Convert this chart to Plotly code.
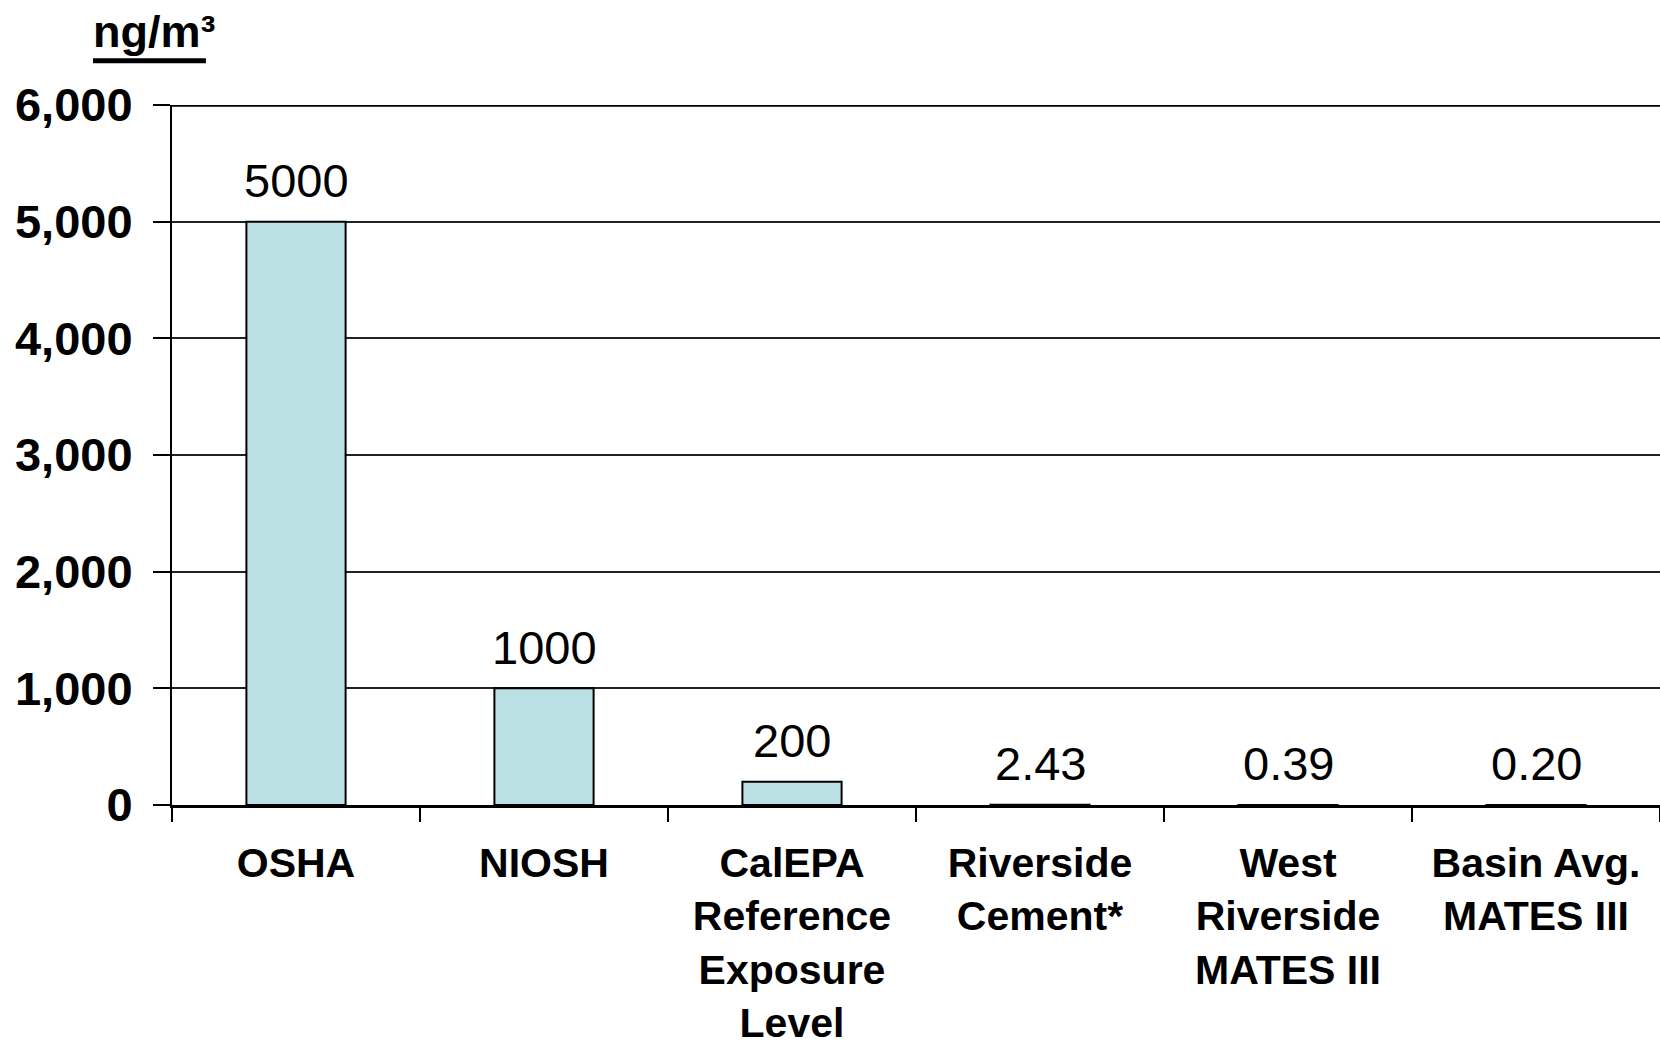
import plotly.graph_objects as go

categories = ["OSHA", "NIOSH", "CalEPA<br>Reference<br>Exposure<br>Level", "Riverside<br>Cement*",
              "West<br>Riverside<br>MATES III", "Basin Avg.<br>MATES III"]
values = [5000, 1000, 200, 2.43, 0.39, 0.20]
value_labels = ["5000", "1000", "200", "2.43", "0.39", "0.20"]
y_ticks = [0, 1000, 2000, 3000, 4000, 5000, 6000]

FONT = "Liberation Sans, Arial, sans-serif"

fig = go.Figure()
fig.add_trace(go.Bar(
    x=categories, y=values, width=0.4,
    marker=dict(color="#BAE0E3", line=dict(color="black", width=2)),
    hoverinfo="x+y",
))

for c, v, t in zip(categories, values, value_labels):
    fig.add_annotation(x=c, y=v, text=t, showarrow=False, yanchor="middle", yshift=41,
                       font=dict(family=FONT, size=47, color="black"))

# unit label with thick underline
fig.add_annotation(xref="paper", yref="paper", x=-0.0545, y=1.0, xanchor="left", yanchor="bottom",
                   yshift=46, showarrow=False, text="<b>ng/m³</b>",
                   font=dict(family=FONT, size=45, color="black"))
fig.add_shape(type="line", xref="paper", yref="paper", x0=-0.0531, x1=0.0228, y0=1.0633, y1=1.0633,
              line=dict(color="black", width=5))

fig.add_shape(type="line", xref="paper", yref="y", x0=0, x1=1, y0=6000, y1=6000,
              line=dict(color="black", width=3.5))

fig.update_layout(
    width=1660, height=1053,
    margin=dict(l=172, r=0, t=105, b=248, autoexpand=False),
    paper_bgcolor="white", plot_bgcolor="white",
    showlegend=False, bargap=0.6,
    font=dict(family=FONT, color="black"),
)
fig.update_xaxes(
    type="category", tickson="boundaries", ticks="outside", ticklen=14, tickwidth=1.5,
    tickcolor="black", showline=True, linecolor="black", linewidth=2.5, showgrid=False,
    tickfont=dict(family=FONT, size=41, color="black", weight="bold"),
    ticklabelstandoff=20, automargin=False,
)
fig.update_yaxes(
    range=[0, 6000], tickvals=y_ticks, tickformat=",", ticks="outside", ticklen=17, tickwidth=1.5,
    tickcolor="black", showline=True, linecolor="black", linewidth=2,
    showgrid=True, gridcolor="#222222", gridwidth=2, zeroline=False,
    tickfont=dict(family=FONT, size=47, color="black", weight="bold"),
    ticklabelstandoff=11, automargin=False,
)

fig.write_html("out.html")
